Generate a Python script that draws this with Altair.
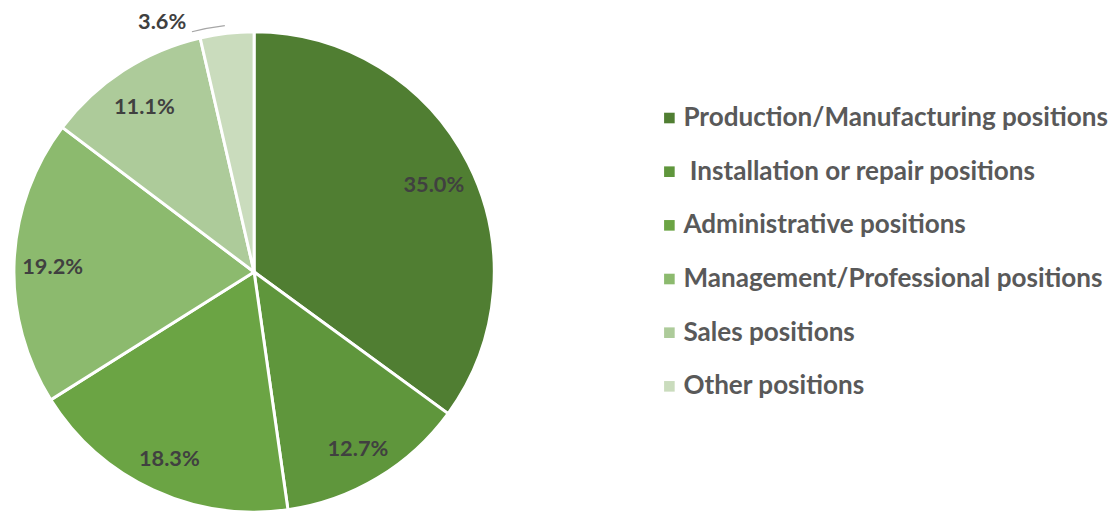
import altair as alt
import pandas as pd

categories = [
    "Production/Manufacturing positions",
    "\u200b\u00a0Installation or repair positions",
    "Administrative positions",
    "Management/Professional positions",
    "Sales positions",
    "Other positions",
]
values = [35.0, 12.7, 18.3, 19.2, 11.1, 3.6]
labels = ["35.0%", "12.7%", "18.3%", "19.2%", "11.1%", "3.6%"]
colors = ["#507E32", "#5F963C", "#6BA444", "#8CBA6E", "#ADCB9A", "#CADCBD"]

df = pd.DataFrame({
    "category": categories,
    "value": values,
    "label": labels,
    "order": list(range(len(categories))),
})

FONT = "Lato"

base = alt.Chart(df).encode(
    theta=alt.Theta("value:Q", stack=True),
    order=alt.Order("order:Q"),
)

pie = base.mark_arc(outerRadius=243, stroke="white", strokeWidth=3).encode(
    color=alt.Color(
        "category:N",
        sort=categories,
        scale=alt.Scale(domain=categories, range=colors),
        legend=alt.Legend(
            title=None,
            orient="none",
            legendX=648,
            legendY=94,
            symbolType="square",
            symbolSize=115,
            symbolStrokeWidth=0,
            labelFont=FONT,
            labelFontWeight="bold",
            labelFontSize=26.4,
            labelColor="#595959",
            rowPadding=27.3,
            labelOffset=1,
            labelLimit=600,
        ),
    )
)

text = base.mark_text(
    radius=204, dy=4, font=FONT, fontWeight="bold", fontSize=22, color="#404040"
).encode(
    text=alt.Text("label:N"),
    opacity=alt.condition(alt.datum.order < 5, alt.value(1), alt.value(0)),
)

other_df = df[df["order"] == 5]
other_label = alt.Chart(other_df).mark_text(
    theta=5.93, radius=269, font=FONT, fontWeight="bold", fontSize=22, color="#404040"
).encode(text=alt.Text("label:N"))

leader = alt.Chart(other_df).mark_arc(
    theta=6.03, theta2=6.165, radius=250.5, radius2=251.7, fill="#A6A6A6"
).encode(detail=alt.Detail("category:N"))

chart = alt.layer(pie, text, other_label, leader).properties(
    width=482, height=526, padding=0
).configure_view(stroke=None)

chart.save("out.html", embed_options={"renderer": "svg", "actions": False})
